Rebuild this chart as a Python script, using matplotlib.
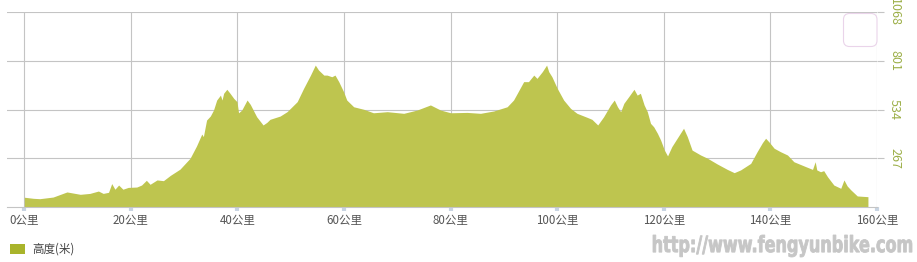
import numpy as np
import matplotlib.pyplot as plt
from matplotlib.patches import FancyBboxPatch, Rectangle, PathPatch
from matplotlib.textpath import TextPath
from matplotlib.font_manager import FontProperties
from matplotlib.transforms import Affine2D, IdentityTransform

plt.rcParams['font.family'] = ['Noto Sans CJK SC', 'DejaVu Sans']

# distance (km) and elevation (m)
km = [0.0, 1.7, 2.9, 5.4, 8.0, 10.5, 12.3, 13.9, 14.8, 15.8, 16.4, 17.0, 17.7,
      18.5, 19.5, 21.1, 22.0, 22.9, 23.6, 24.9, 26.1, 27.4, 29.2, 31.1, 32.3,
      33.3, 33.6, 34.2, 34.9, 35.5, 36.1, 36.8, 37.1, 37.4, 38.0, 38.6, 39.3,
      39.9, 40.2, 40.8, 41.8, 42.4, 43.6, 44.8, 45.5, 46.1, 48.0, 49.3, 51.2,
      52.4, 53.7, 54.6, 55.2, 56.2, 56.8, 57.7, 58.3, 59.0, 59.9, 60.5, 61.8,
      63.7, 65.5, 68.1, 71.2, 73.7, 76.2, 78.1, 80.0, 83.1, 85.6, 88.1, 90.6,
      91.8, 92.5, 93.7, 94.6, 95.6, 96.2, 97.2, 98.0, 98.4, 99.0, 100.0, 101.2,
      102.5, 103.7, 105.6, 106.5, 107.6, 108.7, 110.0, 110.7, 111.3, 111.9,
      112.5, 113.4, 114.4, 115.0, 115.6, 116.3, 116.9, 117.5, 118.1, 118.8,
      119.4, 120.1, 120.7, 121.5, 122.5, 123.7, 124.4, 125.3, 126.9, 128.2,
      130.0, 131.9, 133.2, 134.4, 136.3, 137.5, 138.5, 139.1, 139.7, 140.7,
      141.9, 143.2, 144.4, 146.3, 147.9, 148.4, 148.7, 149.4, 150.0, 150.7,
      151.9, 153.2, 153.8, 154.4, 155.1, 156.3, 158.3]
elev = [52, 46, 44, 53, 81, 68, 73, 86, 73, 79, 127, 96, 119,
        96, 106, 108, 119, 145, 123, 147, 143, 172, 206, 266, 333,
        399, 385, 476, 498, 531, 586, 613, 586, 623, 645, 623, 595,
        577, 516, 531, 586, 562, 494, 449, 463, 480, 498, 522, 577,
        650, 723, 778, 751, 723, 723, 714, 723, 687, 632, 586, 549,
        535, 516, 522, 513, 531, 559, 531, 516, 518, 513, 526, 549,
        586, 623, 687, 687, 723, 705, 742, 778, 742, 714, 650, 586,
        540, 513, 491, 480, 449, 494, 559, 586, 549, 522,
        568, 604, 645, 613, 623, 559, 522, 458, 439, 403,
        366, 311, 279, 330, 376, 431, 385, 311, 284, 266,
        235, 205, 187, 202, 238, 302, 352, 376, 357, 321,
        302, 284, 247, 224, 205, 247, 202, 192, 198, 165,
        119, 101, 147, 114, 92, 59, 55]

x_ticks = [0, 20, 40, 60, 80, 100, 120, 140, 160]
x_labels = ['%d公里' % v for v in x_ticks]
y_ticks = [267, 534, 801, 1068]

fill_color = '#bec54f'
grid_color = '#c4c4c4'

fig = plt.figure(figsize=(9.17, 2.62), dpi=100)
ax = fig.add_axes([7 / 917, 1 - 206.7 / 262, 870 / 917, 194.4 / 262])

ax.fill_between(km, elev, 0, color=fill_color, lw=0, zorder=2)

ax.set_xlim(-3.25, 160)
ax.set_ylim(0, 1068)

ax.set_xticks(x_ticks)
ax.set_xticklabels(x_labels, fontsize=8.3, color='#555555')
ax.set_yticks(y_ticks)
ax.yaxis.tick_right()
ax.set_yticklabels([str(v) for v in y_ticks], fontsize=9, color='#9caf48',
                   rotation=-90, va='center')
ax.tick_params(axis='x', length=3, width=3, color='#c8d4e2', pad=2)
ax.tick_params(axis='y', length=5, width=0.8, color=grid_color, pad=3)

ax.grid(True, color=grid_color, lw=0.8, zorder=1)
ax.set_axisbelow(True)
for side in ['top', 'left', 'right']:
    ax.spines[side].set_visible(False)
ax.spines['bottom'].set_color(grid_color)
ax.spines['bottom'].set_linewidth(0.8)

# empty rounded box at top right (pixel coordinates)
box = FancyBboxPatch((843.5, 262 - 46.5), 33.5, 33,
                     boxstyle='round,pad=0,rounding_size=6',
                     transform=IdentityTransform(), fc='white', ec='#ead4ea',
                     lw=0.8)
fig.patches.append(box)

# legend
fig.patches.append(Rectangle((10 / 917, 1 - 254 / 262), 15 / 917, 10 / 262,
                             transform=fig.transFigure, fc='#a9b42b', ec='none'))
fig.text(32 / 917, 1 - 249 / 262, '高度(米)', fontsize=8.3, color='#444444',
         va='center', ha='left')

# watermark, squeezed into its box (pixels: x 653-912, y 235-257)
tp = TextPath((0, 0), 'http://www.fengyunbike.com', size=20,
              prop=FontProperties(family='DejaVu Sans', weight='bold'))
ext = tp.get_extents()
sx = (912 - 653) / ext.width
sy = (257 - 235) / ext.height
tr = Affine2D().translate(-ext.x0, -ext.y0).scale(sx, sy).translate(653, 262 - 257)
wm = PathPatch(tr.transform_path(tp), fc='#c6c6c6', ec='#c6c6c6', lw=0.6,
               transform=IdentityTransform())
fig.patches.append(wm)

fig.savefig('out.png', dpi=100)
